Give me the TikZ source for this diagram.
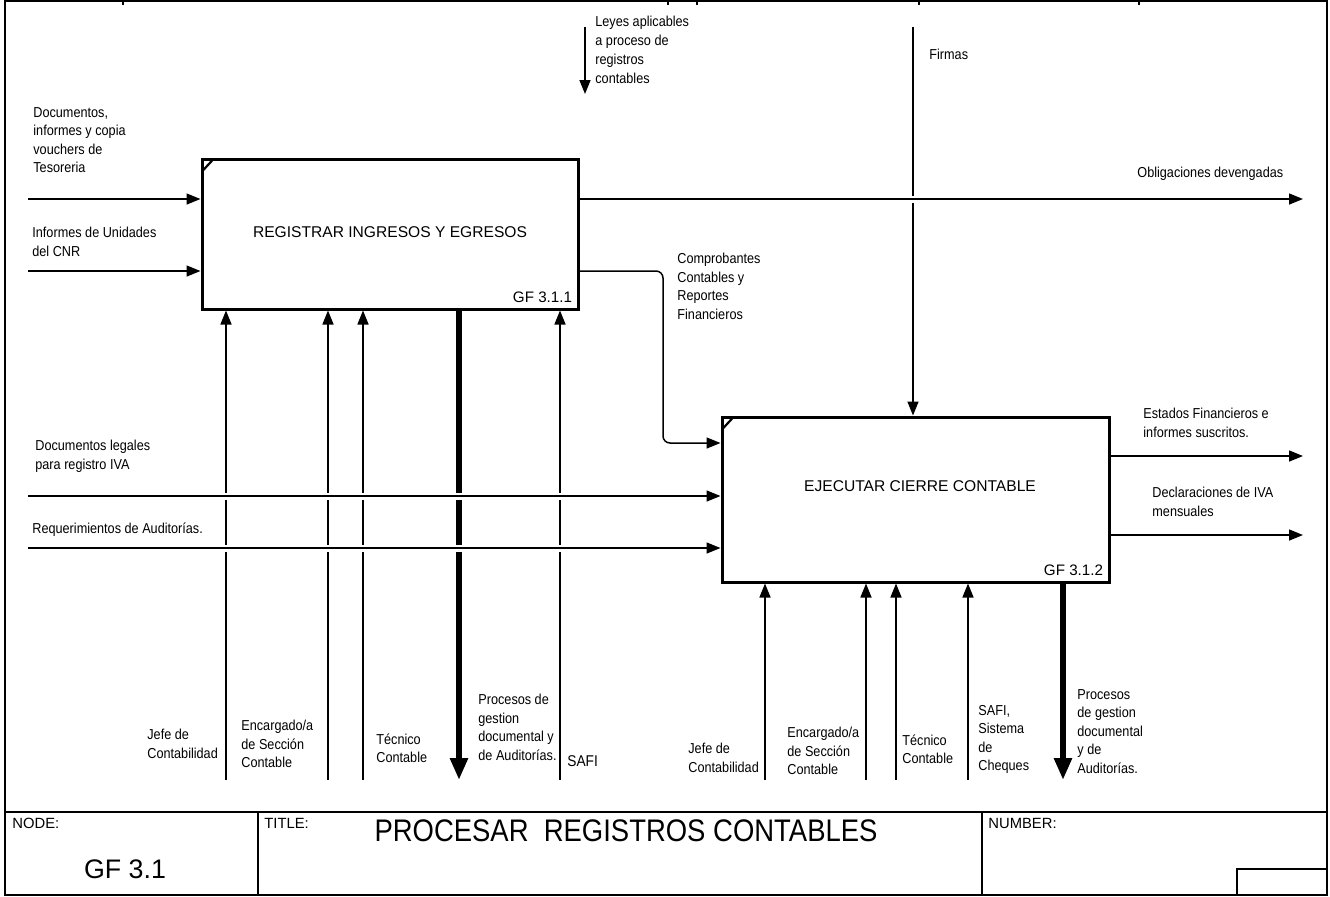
\documentclass[tikz,border=0pt]{standalone}
\usepackage{fontspec}
\setmainfont{Liberation Sans}
\newfontfamily\idefnarrow{Liberation Sans}[FakeStretch=0.88]
\usetikzlibrary{positioning,arrows.meta}
\tikzset{
    ideffunc/.style={draw, line width=1.5pt, inner sep=0pt},
    idefname/.style={font=\fontsize{7.8}{9}\selectfont, inner sep=0pt},
    idefcode/.style={font=\fontsize{7.6}{9}\selectfont, inner sep=3.5pt, anchor=south east},
    ideflabel/.style={font=\idefnarrow\fontsize{7.2}{9.25}\selectfont, align=left, inner sep=0pt, anchor=north west},
    idefhead/.style={font=\fontsize{7.4}{9}\selectfont, inner sep=0pt, anchor=north west},
    idefarrow/.style={draw, line width=0.75pt, -{Triangle[length=7pt, width=5.5pt]}},
    idefcall/.style={draw, line width=2.8pt, -{Triangle[length=11pt, width=8.5pt]}},
    idefgap/.style={preaction={draw=white, line width=3.5pt, -, shorten >=6pt, shorten <=2pt}},
    idefnotch/.style={draw, line width=1.1pt},
    idefframe/.style={draw, line width=1pt}
}

\begin{document}
\begin{tikzpicture}[x=0.5pt, y=-0.5pt]
    \useasboundingbox (0,0) rectangle (1330,896);
    % marco y bloque de titulo
    \draw[idefframe] (5,1) rectangle (1327,895);
    \foreach \tick in {123,668,697,919,1139}
        \draw[line width=0.6pt] (\tick,1) -- (\tick,5);
    \draw[idefframe] (5,812) -- (1327,812);
    \draw[idefframe] (258,812) -- (258,895);
    \draw[idefframe] (982,812) -- (982,895);
    \draw[line width=0.6pt] (1237,869) rectangle (1327,895);
    \node[idefhead] (nodehead) at (12,818) {NODE:};
    \node[idefhead] (titlehead) at (264,818) {TITLE:};
    \node[idefhead] (numberhead) at (988,818) {NUMBER:};
    \node[font=\fontsize{13.4}{15}\selectfont, inner sep=0pt] (nodenum) at (125,869.5) {GF 3.1};
    \node[font=\idefnarrow\fontsize{15.6}{17}\selectfont, inner sep=0pt] (diagtitle) at (626,831) {PROCESAR\ \ REGISTROS CONTABLES};

    % funciones
    \node[ideffunc, minimum width=188pt, minimum height=75pt] (registrar) at (390,234) {};
    \node[ideffunc, minimum width=193.5pt, minimum height=82.5pt] (ejecutar) at (915.5,499.5) {};
    \node[idefname] (registrarname) at (390,232.5) {REGISTRAR INGRESOS Y EGRESOS};
    \node[idefname] (ejecutarname) at (920,486) {EJECUTAR CIERRE CONTABLE};
    \node[idefcode] (registrarcode) at (registrar.south east) {GF 3.1.1};
    \node[idefcode] (ejecutarcode) at (ejecutar.south east) {GF 3.1.2};
    \draw[idefnotch] ([shift={(0.75pt,-7pt)}]registrar.north west) -- ([shift={(6.5pt,-0.75pt)}]registrar.north west);
    \draw[idefnotch] ([shift={(0.75pt,-7pt)}]ejecutar.north west) -- ([shift={(6.5pt,-0.75pt)}]ejecutar.north west);

    % mecanismos
    \coordinate (jefeA) at (226,780);
    \coordinate (encargadoA) at (328,780);
    \coordinate (tecnicoA) at (363,780);
    \coordinate (procesosA) at (459,780);
    \coordinate (safiA) at (560,780);
    \coordinate (jefeB) at (765,780);
    \coordinate (encargadoB) at (866,780);
    \coordinate (tecnicoB) at (896,780);
    \coordinate (safiB) at (968,780);
    \coordinate (procesosB) at (1063,780);
    \draw[idefarrow] (jefeA) -- (jefeA |- registrar.south);
    \draw[idefarrow] (encargadoA) -- (encargadoA |- registrar.south);
    \draw[idefarrow] (tecnicoA) -- (tecnicoA |- registrar.south);
    \draw[idefarrow] (safiA) -- (safiA |- registrar.south);
    \draw[idefcall] (procesosA |- registrar.south) -- (procesosA);
    \draw[idefarrow] (jefeB) -- (jefeB |- ejecutar.south);
    \draw[idefarrow] (encargadoB) -- (encargadoB |- ejecutar.south);
    \draw[idefarrow] (tecnicoB) -- (tecnicoB |- ejecutar.south);
    \draw[idefarrow] (safiB) -- (safiB |- ejecutar.south);
    \draw[idefcall] (procesosB |- ejecutar.south) -- (procesosB);

    % controles
    \coordinate (leyestop) at (585,27);
    \coordinate (leyestip) at (585,94);
    \coordinate (firmastop) at (913,27);
    \draw[idefarrow] (leyestop) -- (leyestip);
    \draw[idefarrow] (firmastop) -- (firmastop |- ejecutar.north);

    % entradas y salidas
    \coordinate (docsin) at (28,199);
    \coordinate (informesin) at (28,271);
    \coordinate (legalesin) at (28,496);
    \coordinate (auditin) at (28,548);
    \coordinate (obligout) at (1303,199);
    \coordinate (estadosout) at (1303,456);
    \coordinate (ivaout) at (1303,535);
    \coordinate (comprobantesbend) at (663,443);
    \draw[idefarrow] (docsin) -- (docsin -| registrar.west);
    \draw[idefarrow] (informesin) -- (informesin -| registrar.west);
    \draw[idefarrow, idefgap] (legalesin) -- (legalesin -| ejecutar.west);
    \draw[idefarrow, idefgap] (auditin) -- (auditin -| ejecutar.west);
    \draw[idefarrow, idefgap] (obligout -| registrar.east) -- (obligout);
    \draw[idefarrow] (estadosout -| ejecutar.east) -- (estadosout);
    \draw[idefarrow] (ivaout -| ejecutar.east) -- (ivaout);
    \draw[idefarrow, rounded corners=3.5pt] (informesin -| registrar.east) -| (comprobantesbend) -- (comprobantesbend -| ejecutar.west);

    % etiquetas
    \node[ideflabel] (docslabel) at (33,107) {Documentos,\\informes y copia\\vouchers de\\Tesoreria};
    \node[ideflabel] (informeslabel) at (32,227) {Informes de Unidades\\del CNR};
    \node[ideflabel] (legaleslabel) at (35,440) {Documentos legales\\para registro IVA};
    \node[ideflabel] (auditlabel) at (32,522) {Requerimientos de Auditorías.};
    \node[ideflabel, font=\idefnarrow\fontsize{7.2}{9.5}\selectfont] (leyeslabel) at (595,16) {Leyes aplicables\\a proceso de\\registros\\contables};
    \node[ideflabel] (firmaslabel) at (929,49) {Firmas};
    \node[ideflabel] (obliglabel) at (1137,167) {Obligaciones devengadas};
    \node[ideflabel] (comprobanteslabel) at (677,253) {Comprobantes\\Contables y\\Reportes\\Financieros};
    \node[ideflabel] (estadoslabel) at (1143,408) {Estados Financieros e\\informes suscritos.};
    \node[ideflabel] (ivalabel) at (1152,487) {Declaraciones de IVA\\mensuales};
    \node[ideflabel] (jefeAlabel) at (147,729) {Jefe de\\Contabilidad};
    \node[ideflabel] (encargadoAlabel) at (241,720) {Encargado/a\\de Sección\\Contable};
    \node[ideflabel] (tecnicoAlabel) at (376,733) {Técnico\\Contable};
    \node[ideflabel] (procesosAlabel) at (478,694) {Procesos de\\gestion\\documental y\\de Auditorías.};
    \node[ideflabel, font=\idefnarrow\fontsize{7.8}{9.25}\selectfont] (safiAlabel) at (567,755) {SAFI};
    \node[ideflabel] (jefeBlabel) at (688,743) {Jefe de\\Contabilidad};
    \node[ideflabel] (encargadoBlabel) at (787,727) {Encargado/a\\de Sección\\Contable};
    \node[ideflabel] (tecnicoBlabel) at (902,734) {Técnico\\Contable};
    \node[ideflabel] (safiBlabel) at (978,705) {SAFI,\\Sistema\\de\\Cheques};
    \node[ideflabel] (procesosBlabel) at (1077,689) {Procesos\\de gestion\\documental\\y de\\Auditorías.};
\end{tikzpicture}
\end{document}
